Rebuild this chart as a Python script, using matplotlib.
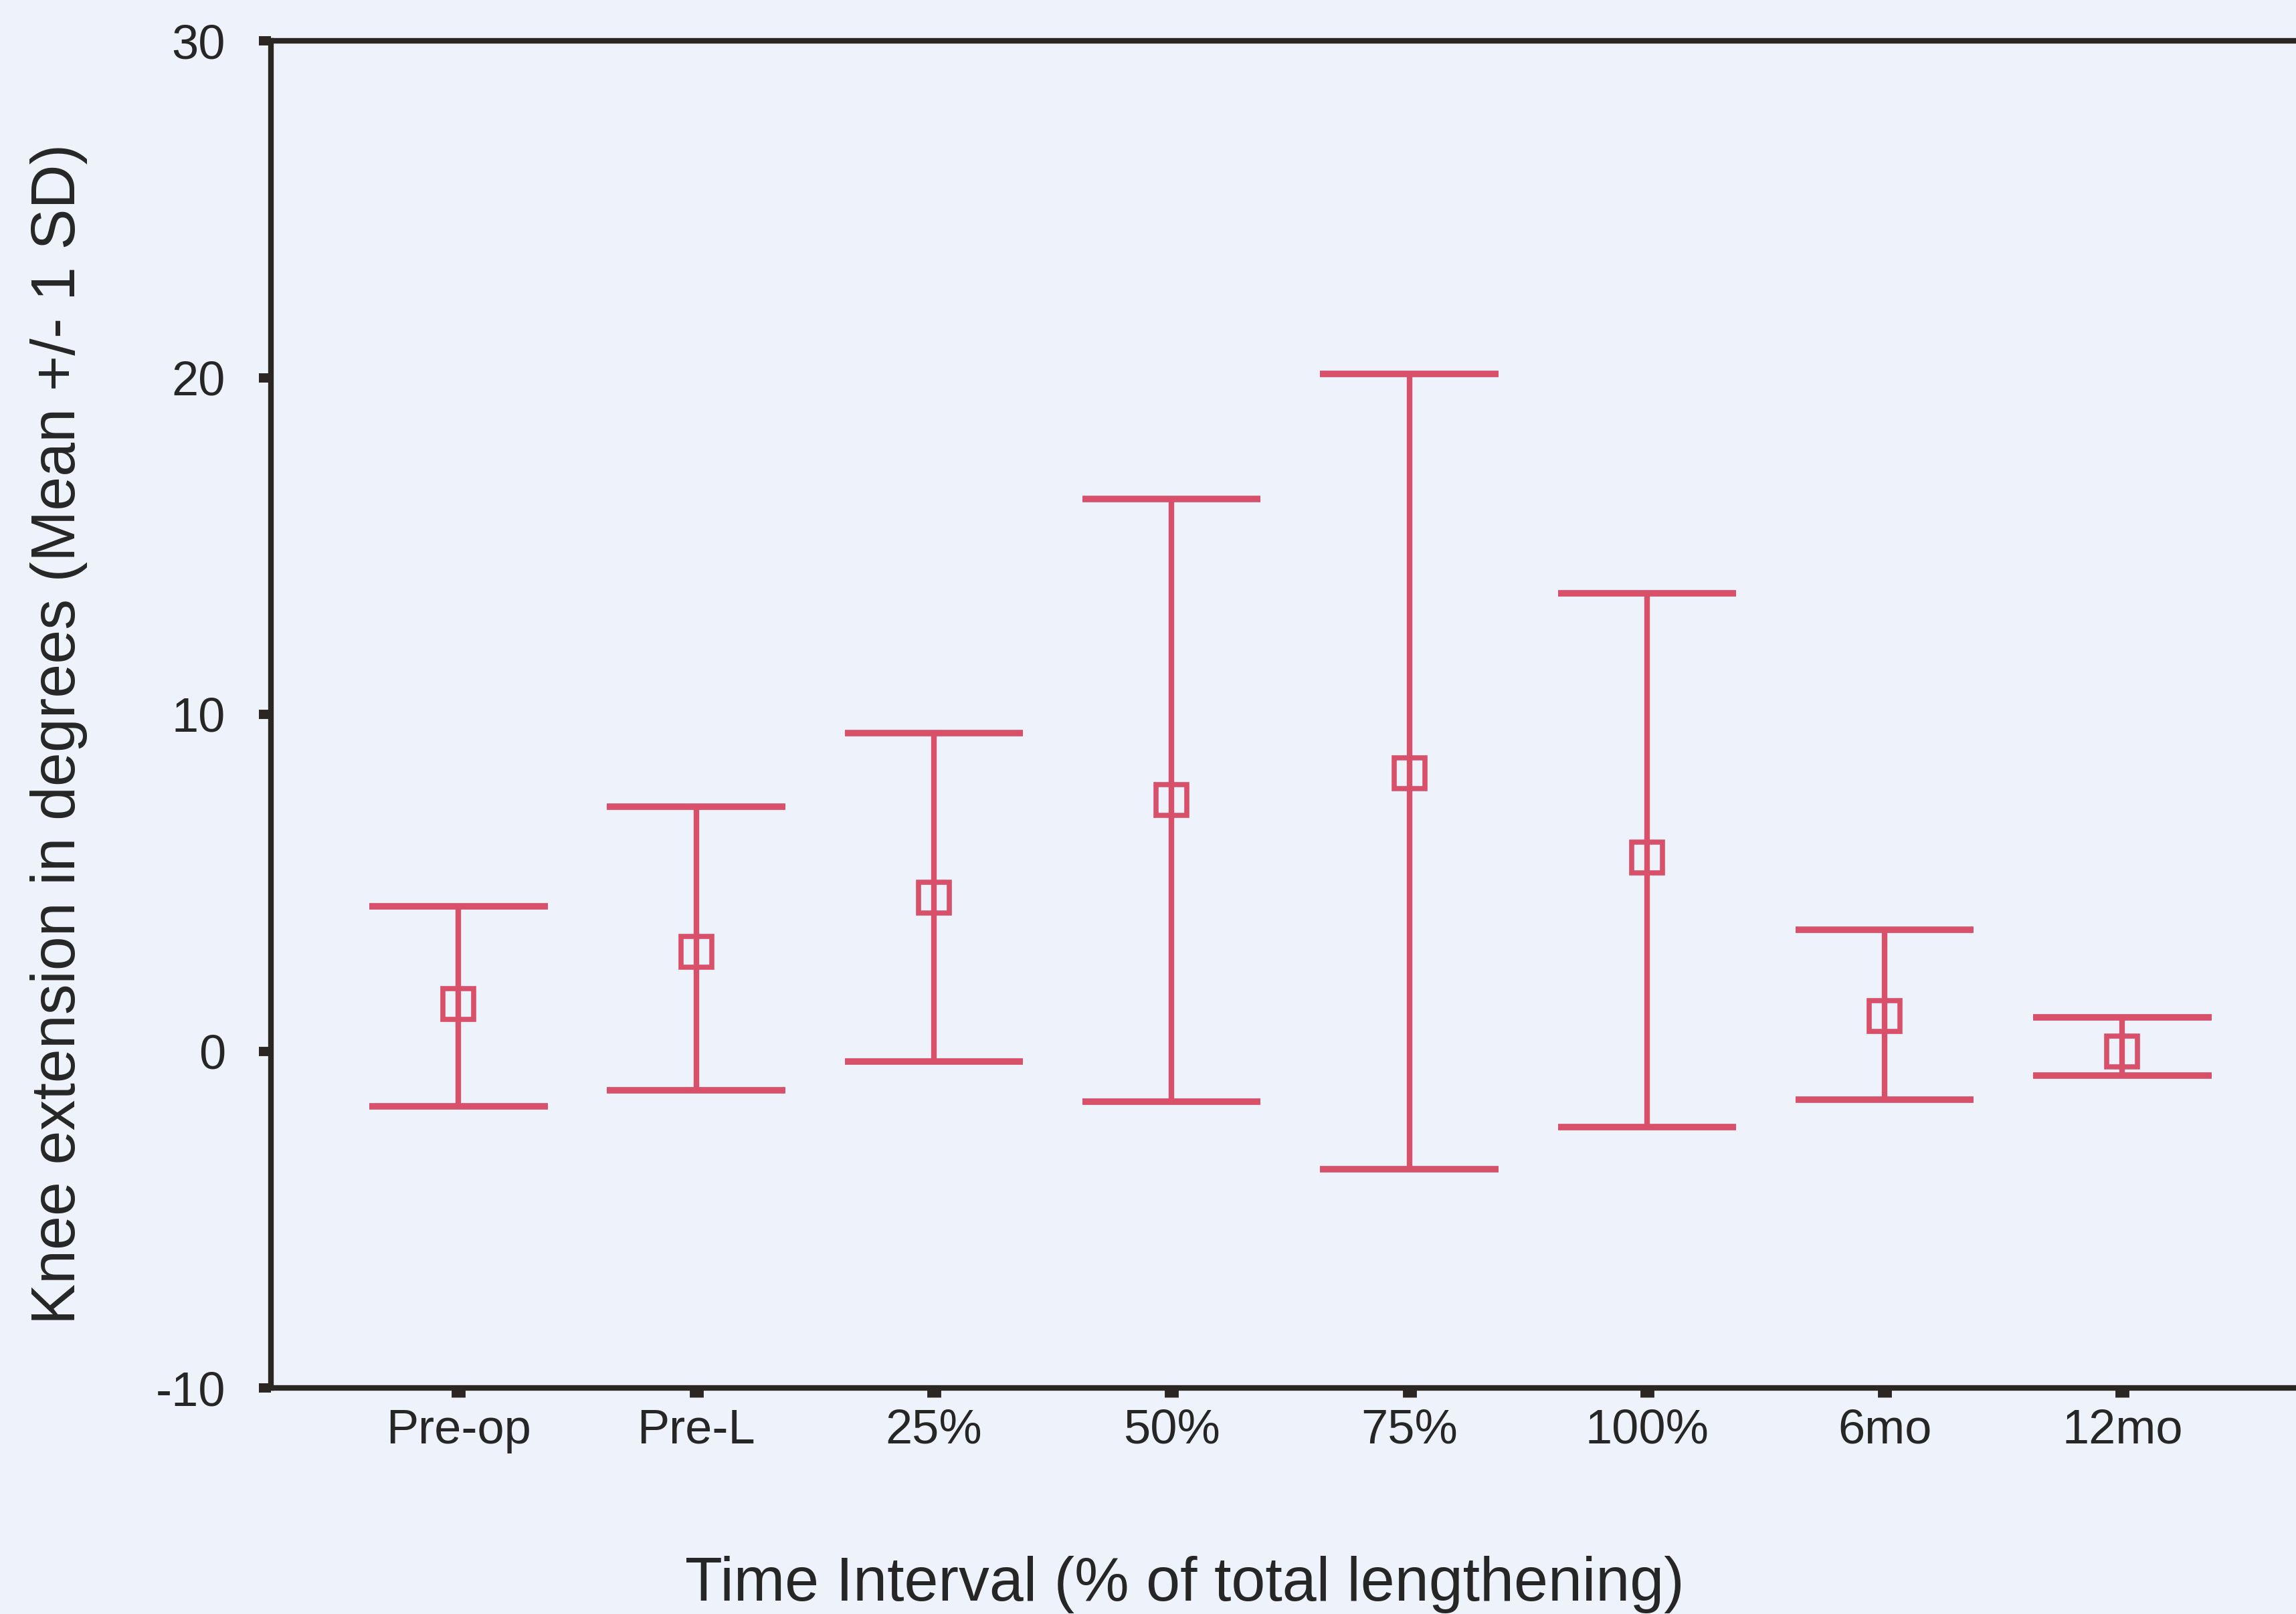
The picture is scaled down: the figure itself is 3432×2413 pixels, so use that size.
import numpy as np
import matplotlib
matplotlib.use('Agg')
import matplotlib.pyplot as plt
from matplotlib.ticker import FuncFormatter

# Данные: среднее и границы (+/- 1 SD) по интервалам
categories = ['Pre-op', 'Pre-L', '25%', '50%', '75%', '100%', '6mo', '12mo']
means = [1.4, 2.95, 4.55, 7.45, 8.25, 5.75, 1.05, 0.0]
upper = [4.3, 7.25, 9.45, 16.4, 20.1, 13.6, 3.6, 1.0]
lower = [-1.63, -1.17, -0.3, -1.5, -3.5, -2.25, -1.43, -0.73]
yticks = [-10, 0, 10, 20, 30]


def main():
    plt.rcParams['font.family'] = ['Liberation Sans', 'DejaVu Sans']
    bg = '#eef3fb'
    red = '#d9506a'
    ink = '#2b2622'
    txt = '#262626'

    W, H = 3432, 2413
    fig = plt.figure(figsize=(W / 100, H / 100), dpi=100, facecolor=bg)
    left, top, bottom = 405, 61, 2075
    ax = fig.add_axes([left / W, (H - bottom) / H, (W - left) / W, (bottom - top) / H])
    ax.set_facecolor(bg)

    x = np.arange(1, len(categories) + 1)
    half = 0.375  # половина ширины "шапки"

    ax.vlines(x, lower, upper, color=red, lw=6, capstyle='butt', zorder=3)
    ax.hlines(upper, x - half, x + half, color=red, lw=7, capstyle='butt', zorder=3)
    ax.hlines(lower, x - half, x + half, color=red, lw=7, capstyle='butt', zorder=3)
    ax.plot(x, means, 's', ms=33, mfc='none', mec=red, mew=5.5, zorder=4)

    ax.set_xlim(0.211, 0.211 + (W - left) / 355.3)
    ax.set_ylim(-10, 30)
    ax.set_xticks(x)
    ax.set_xticklabels(categories)
    ax.set_yticks(yticks)
    ax.yaxis.set_major_formatter(FuncFormatter(lambda v, p: '%d' % v))  # обычный дефис

    for s in ['left', 'bottom', 'top']:
        ax.spines[s].set_color(ink)
        ax.spines[s].set_linewidth(6)
    ax.spines['right'].set_visible(False)

    ax.tick_params(axis='y', direction='out', length=13, width=10, color=ink,
                   labelsize=52, labelcolor=txt, pad=36)
    ax.tick_params(axis='x', direction='out', length=10, width=15, color=ink,
                   labelsize=52, labelcolor=txt, pad=12)

    fig.text(88 / W, 1 - 1097 / H, 'Knee extension in degrees (Mean +/- 1 SD)',
             rotation=90, ha='center', va='center', fontsize=66, color=txt)
    fig.text(1771 / W, 1 - 2369 / H, 'Time Interval (% of total lengthening)',
             ha='center', va='center', fontsize=66, color=txt)

    fig.savefig('out.png', dpi=100, facecolor=bg)


if __name__ == '__main__':
    main()
